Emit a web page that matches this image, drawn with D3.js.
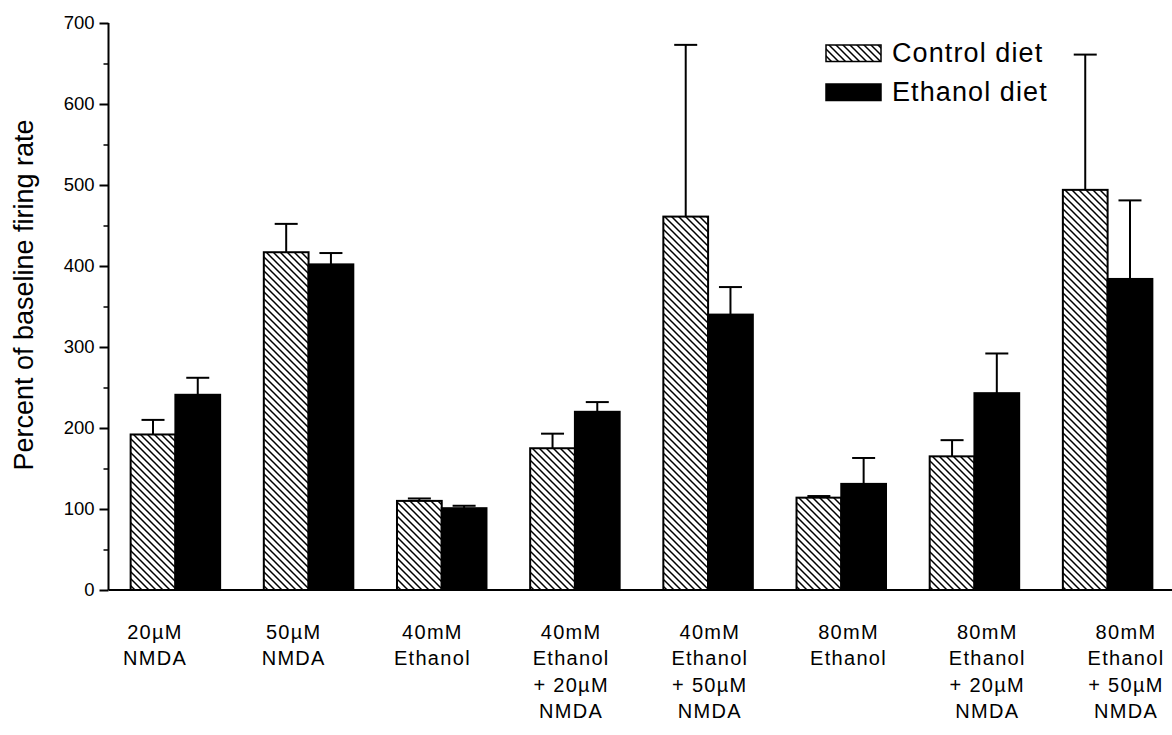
<!DOCTYPE html>
<html>
<head>
<meta charset="utf-8">
<script src="https://cdn.jsdelivr.net/npm/d3@7"></script>
<style>
  html, body { margin: 0; padding: 0; background: #fff; }
  svg { display: block; font-family: "Liberation Sans", Arial, Helvetica, sans-serif; }
</style>
</head>
<body>
<svg id="chart" width="1172" height="735"></svg>
<script>
// ---- data ----
const categories = ["20µM NMDA", "50µM NMDA", "40mM Ethanol", "40mM Ethanol + 20µM NMDA",
                    "40mM Ethanol + 50µM NMDA", "80mM Ethanol", "80mM Ethanol + 20µM NMDA", "80mM Ethanol + 50µM NMDA"];
const categoryLines = [
  ["20µM", "NMDA"],
  ["50µM", "NMDA"],
  ["40mM", "Ethanol"],
  ["40mM", "Ethanol", "+ 20µM", "NMDA"],
  ["40mM", "Ethanol", "+ 50µM", "NMDA"],
  ["80mM", "Ethanol"],
  ["80mM", "Ethanol", "+ 20µM", "NMDA"],
  ["80mM", "Ethanol", "+ 50µM", "NMDA"]
];
const seriesNames = ["Control diet", "Ethanol diet"];
const controlMean = [192, 417, 110, 175, 461, 114, 165, 494];
const controlErr  = [210, 452, 113, 193, 673, 116, 185, 661];   // top of error bar
const ethanolMean = [241, 402, 101, 220, 340, 131, 243, 384];
const ethanolErr  = [262, 416, 104, 232, 374, 163, 292, 481];   // top of error bar
const yTicks = [0, 100, 200, 300, 400, 500, 600, 700];
const yMinorTicks = [50, 150, 250, 350, 450, 550, 650];
const yTitle = "Percent of baseline firing rate";

// ---- layout ----
const svg = d3.select("#chart");
const axisX = 108.5;
const y = d3.scaleLinear().domain([0, 700]).range([590, 23]);
const x0 = d3.scaleBand().domain(categories).range([108, 1175]).paddingInner(0.328).paddingOuter(0.17);
const x1 = d3.scaleBand().domain(seriesNames).range([0, x0.bandwidth()]).padding(0);
const xLabel = d3.scalePoint().domain(categories).range([155, 1126]);

// hatch pattern
const defs = svg.append("defs");
const pat = defs.append("pattern")
  .attr("id", "hatch").attr("patternUnits", "userSpaceOnUse")
  .attr("width", 7).attr("height", 7);
pat.append("rect").attr("width", 7).attr("height", 7).attr("fill", "#fff");
pat.append("path")
  .attr("d", "M0,0L7,7M-3.5,3.5L3.5,10.5M3.5,-3.5L10.5,3.5")
  .attr("stroke", "#000").attr("stroke-width", 1.5);

const series = [
  { name: seriesNames[0], mean: controlMean, err: controlErr, fill: "url(#hatch)" },
  { name: seriesNames[1], mean: ethanolMean, err: ethanolErr, fill: "#000" }
];

// bars + error bars
const capW = 23;
series.forEach(s => {
  const g = svg.append("g");
  categories.forEach((c, i) => {
    const bx = x0(c) + x1(s.name);
    const bw = x1.bandwidth();
    const cx = bx + bw / 2;
    // error bar (drawn first so bar outline covers its base)
    g.append("line").attr("x1", cx).attr("x2", cx)
      .attr("y1", y(s.mean[i])).attr("y2", y(s.err[i]))
      .attr("stroke", "#000").attr("stroke-width", 2);
    g.append("line").attr("x1", cx - capW / 2).attr("x2", cx + capW / 2)
      .attr("y1", y(s.err[i])).attr("y2", y(s.err[i]))
      .attr("stroke", "#000").attr("stroke-width", 2);
    g.append("rect")
      .attr("x", bx).attr("y", y(s.mean[i]))
      .attr("width", bw).attr("height", y(0) - y(s.mean[i]))
      .attr("fill", s.fill).attr("stroke", "#000").attr("stroke-width", 2);
  });
});

// y axis
const yAxisG = svg.append("g").attr("transform", `translate(${axisX},0)`);
yAxisG.call(d3.axisLeft(y).tickValues(yTicks).tickSize(9).tickPadding(5).tickFormat(d3.format("d")));
yAxisG.select(".domain").attr("d", `M0,${y(700)}V${y(0)}`).attr("stroke-width", 2);
yAxisG.selectAll(".tick line").attr("stroke-width", 2);
yAxisG.selectAll(".tick text")
  .attr("font-size", 18.5).attr("font-family", "Liberation Sans, Arial, sans-serif").attr("fill", "#000");
const minorG = svg.append("g").attr("transform", `translate(${axisX},0)`);
minorG.call(d3.axisLeft(y).tickValues(yMinorTicks).tickSize(5).tickFormat(""));
minorG.select(".domain").remove();
minorG.selectAll(".tick line").attr("stroke-width", 1.5);

// x baseline
svg.append("line").attr("x1", axisX).attr("x2", 1172)
  .attr("y1", y(0)).attr("y2", y(0))
  .attr("stroke", "#000").attr("stroke-width", 2);

// category labels
const labG = svg.append("g");
categories.forEach((c, i) => {
  const t = labG.append("text")
    .attr("x", xLabel(c)).attr("y", 639)
    .attr("text-anchor", "middle")
    .attr("font-size", 20).attr("letter-spacing", "1.3px").attr("fill", "#000");
  categoryLines[i].forEach((line, j) => {
    t.append("tspan").attr("x", xLabel(c)).attr("y", 639 + j * 26.4).text(line);
  });
});

// y title
svg.append("text")
  .attr("transform", `translate(33,295) rotate(-90)`)
  .attr("text-anchor", "middle")
  .attr("font-size", 27).attr("fill", "#000")
  .text(yTitle);

// legend
const legend = svg.append("g");
series.forEach((s, i) => {
  const ly = 45 + i * 39;
  legend.append("rect").attr("x", 826).attr("y", ly).attr("width", 55).attr("height", 16.5)
    .attr("fill", s.fill).attr("stroke", "#000").attr("stroke-width", 1.5);
  legend.append("text").attr("x", 892).attr("y", ly + 17)
    .attr("font-size", 27).attr("letter-spacing", "1.1px").attr("fill", "#000")
    .text(s.name);
});
</script>
</body>
</html>
